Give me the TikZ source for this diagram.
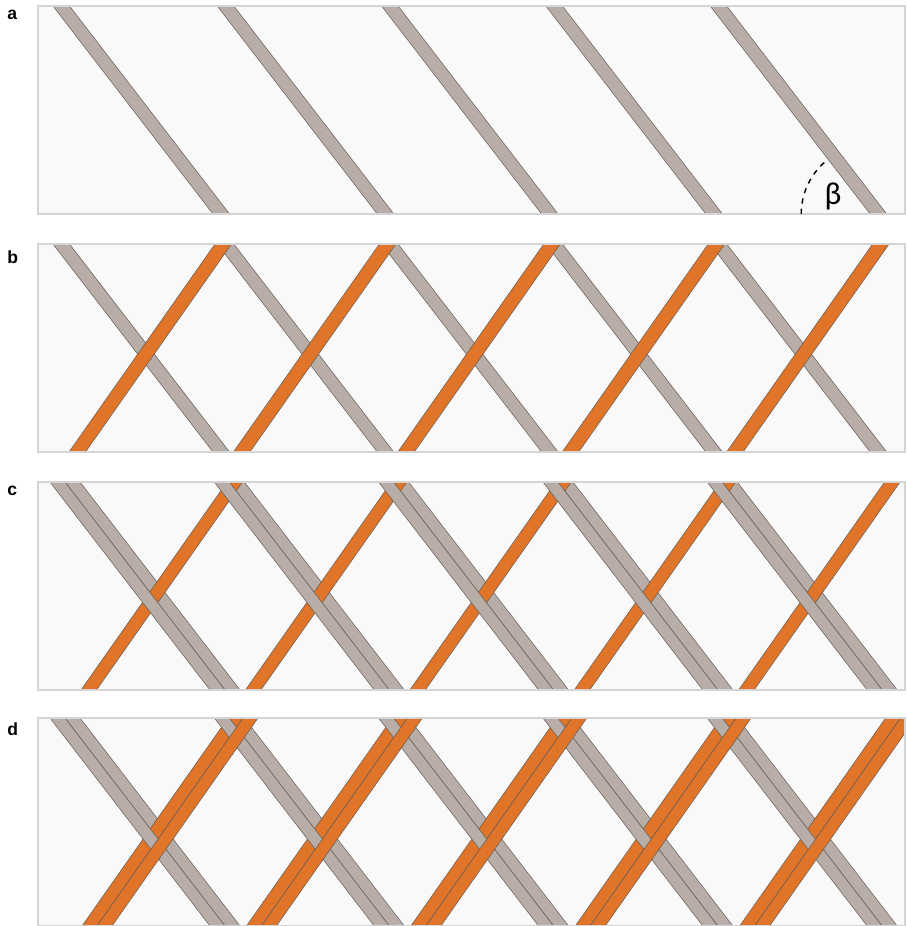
\documentclass[tikz,border=0pt]{standalone}
\usepackage{fontspec}
\setmainfont{Liberation Sans}
\newfontfamily\betafont{Carlito}
\definecolor{fibgray}{HTML}{B8AEA7}
\definecolor{fiborange}{HTML}{E07428}
\definecolor{panelbg}{HTML}{F9F9F9}
\definecolor{panelrim}{HTML}{D4D4D4}
\definecolor{plyedge}{HTML}{665E58}

% one ply running down to the right: style, panel top, x at top, width
\newcommand{\downply}[4]{%
	\draw[#1] (#3,#2) -- ++(#4,0) -- ++(160,208) -- ++(-#4,0) -- cycle;}
% one ply running up to the right: style, panel top, x at bottom, width
\newcommand{\upply}[4]{%
	\draw[#1] (#3,#2+208) -- ++(#4,0) -- ++(146,-208) -- ++(-#4,0) -- cycle;}

\begin{document}
\begin{tikzpicture}[x=0.02cm, y=-0.02cm,
	tow/.style={draw=plyedge, line width=0.3pt, line join=miter},
	grayply/.style={tow, fill=fibgray},
	orangeply/.style={tow, fill=fiborange},
	panel/.style={draw=panelrim, line width=0.6pt},
	tag/.style={font=\fontsize{10}{12}\selectfont\bfseries, anchor=base west, inner sep=0pt}]
	\useasboundingbox (0,0) rectangle (906,926);
	% backgrounds of the four panels
	\foreach \t in {6,244,482,718}
		\fill[panelbg] (38,\t) rectangle (905,\t+208);
	% a: one gray layer
	\begin{scope}
		\clip (38,6) rectangle (905,214);
		\foreach \k in {0,...,4}
			\downply{grayply}{6}{53+164.3*\k}{16.5};
	\end{scope}
	% b: gray, then orange on top
	\begin{scope}
		\clip (38,244) rectangle (905,452);
		\foreach \k in {0,...,4}
			\downply{grayply}{244}{53+164.3*\k}{16.5};
		\foreach \k in {0,...,4}
			\upply{orangeply}{244}{69+164.4*\k}{16.5};
	\end{scope}
	% c: second gray layer over the orange
	\begin{scope}
		\clip (38,482) rectangle (905,690);
		\foreach \k in {0,...,4}
			\downply{grayply}{482}{65+164.3*\k}{15};
		\foreach \k in {0,...,4}
			\upply{orangeply}{482}{81+164.4*\k}{15.5};
		\foreach \k in {0,...,4}
			\downply{grayply}{482}{50+164.3*\k}{15};
	\end{scope}
	% d: second orange layer on top
	\begin{scope}
		\clip (38,718) rectangle (905,926);
		\foreach \k in {0,...,4}
			\downply{grayply}{718}{65+164.3*\k}{15};
		\foreach \k in {0,...,4}
			\upply{orangeply}{718}{82+164.4*\k}{15};
		\foreach \k in {0,...,4}
			\downply{grayply}{718}{50+164.3*\k}{15};
		\foreach \k in {0,...,4}
			\upply{orangeply}{718}{97+164.4*\k}{15};
	\end{scope}
	% frames
	\foreach \t in {6,244,482,718}
		\draw[panel] (38,\t) rectangle (905,\t+208);
	% angle of the plies
	\coordinate (apex) at (870.2,214);
	\draw[dashed, line width=0.8pt] (apex) ++(-69,0) arc[start angle=180, end angle=232.4, radius=69];
	\node[font=\betafont\fontsize{18}{20}\selectfont, inner sep=0pt] (beta) at (833,196) {β};
	% panel letters
	\node[tag] (la) at (7,20) {a};
	\node[tag] (lb) at (7,263) {b};
	\node[tag] (lc) at (7,495) {c};
	\node[tag] (ld) at (7,735) {d};
\end{tikzpicture}
\end{document}
